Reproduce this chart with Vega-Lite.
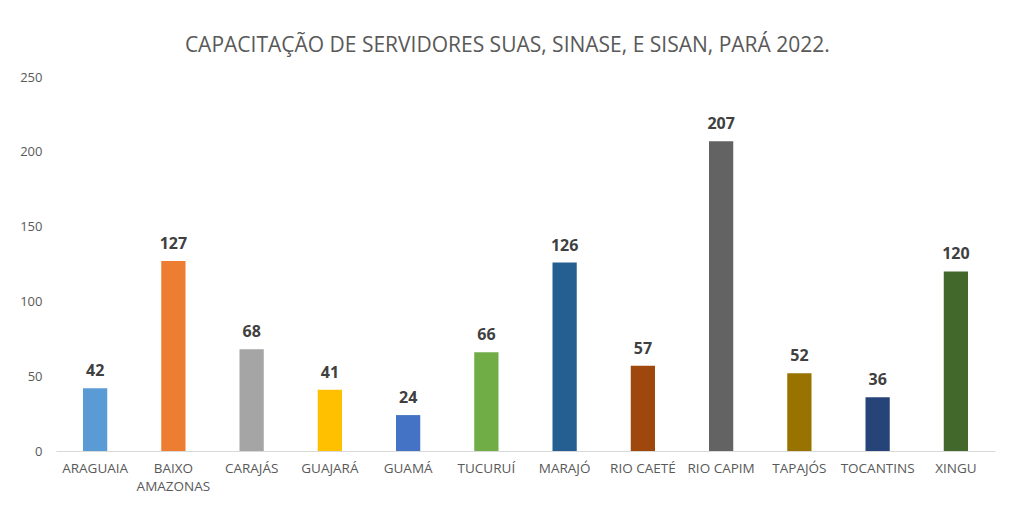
{
  "$schema": "https://vega.github.io/schema/vega-lite/v6.json",
  "width": 939,
  "height": 374,
  "autosize": {"type": "none"},
  "padding": {"left": 56, "top": 77, "right": 21, "bottom": 58},
  "background": "white",
  "config": {
    "view": {"stroke": null},
    "font": "Open Sans"
  },
  "title": {
    "text": "CAPACITAÇÃO DE SERVIDORES SUAS, SINASE, E SISAN, PARÁ 2022.",
    "font": "Open Sans",
    "fontSize": 21,
    "fontWeight": "normal",
    "color": "#595959",
    "anchor": "middle",
    "frame": "bounds",
    "offset": 15
  },
  "data": {
    "values": [
      {"regiao": "ARAGUAIA", "valor": 42, "cor": "#5B9BD5"},
      {"regiao": "BAIXO AMAZONAS", "valor": 127, "cor": "#ED7D31"},
      {"regiao": "CARAJÁS", "valor": 68, "cor": "#A5A5A5"},
      {"regiao": "GUAJARÁ", "valor": 41, "cor": "#FFC000"},
      {"regiao": "GUAMÁ", "valor": 24, "cor": "#4472C4"},
      {"regiao": "TUCURUÍ", "valor": 66, "cor": "#70AD47"},
      {"regiao": "MARAJÓ", "valor": 126, "cor": "#255E91"},
      {"regiao": "RIO CAETÉ", "valor": 57, "cor": "#9E480E"},
      {"regiao": "RIO CAPIM", "valor": 207, "cor": "#636363"},
      {"regiao": "TAPAJÓS", "valor": 52, "cor": "#997300"},
      {"regiao": "TOCANTINS", "valor": 36, "cor": "#264478"},
      {"regiao": "XINGU", "valor": 120, "cor": "#43682B"}
    ]
  },
  "encoding": {
    "x": {
      "field": "regiao",
      "type": "nominal",
      "sort": null,
      "scale": {"paddingInner": 0.69, "paddingOuter": 0.345},
      "axis": {
        "title": null,
        "labelAngle": 0,
        "labelFont": "Open Sans",
        "labelFontSize": 13.5,
        "labelColor": "#595959",
        "labelPadding": 10,
        "labelLimit": 200,
        "labelExpr": "datum.label == 'BAIXO AMAZONAS' ? ['BAIXO', 'AMAZONAS'] : datum.label",
        "labelLineHeight": 18,
        "ticks": false,
        "domainColor": "#D9D9D9",
        "domainWidth": 1
      }
    },
    "y": {
      "field": "valor",
      "type": "quantitative",
      "scale": {"domain": [0, 250]},
      "axis": {
        "title": null,
        "values": [0, 50, 100, 150, 200, 250],
        "grid": false,
        "domain": false,
        "ticks": false,
        "labelFont": "Open Sans",
        "labelFontSize": 13,
        "labelColor": "#595959",
        "labelPadding": 14
      }
    }
  },
  "layer": [
    {
      "mark": {"type": "bar"},
      "encoding": {
        "color": {"field": "cor", "type": "nominal", "scale": null}
      }
    },
    {
      "mark": {
        "type": "text",
        "baseline": "alphabetic",
        "dy": -12,
        "fontSize": 16,
        "fontWeight": "bold",
        "font": "Open Sans",
        "color": "#404040"
      },
      "encoding": {
        "text": {"field": "valor", "type": "quantitative"}
      }
    }
  ]
}
